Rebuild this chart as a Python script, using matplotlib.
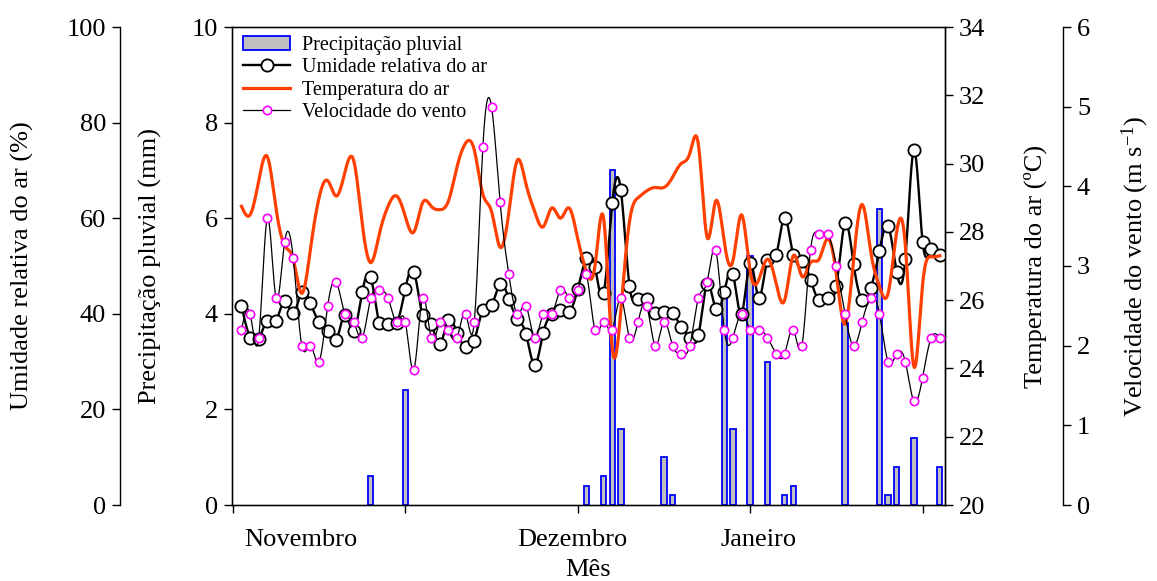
import numpy as np
import matplotlib
matplotlib.use("Agg")
import matplotlib.pyplot as plt
from matplotlib.patches import Patch
from matplotlib.lines import Line2D

plt.rcParams['font.family'] = ['Liberation Serif', 'DejaVu Serif']
plt.rcParams['mathtext.default'] = 'regular'

# ---------------- data ----------------
days = list(range(1, 83))

humidity = [41.6, 35.0, 34.7, 38.5, 38.5, 42.7, 40.1, 44.6, 42.3, 38.3,
            36.3, 34.5, 39.8, 36.4, 44.5, 47.6, 38.0, 37.9, 38.0, 45.2,
            48.8, 39.7, 37.8, 33.7, 38.7, 36.0, 33.0, 34.4, 40.8, 41.8,
            46.2, 43.2, 38.9, 35.8, 29.3, 36.0, 40.0, 40.8, 40.3, 45.2,
            51.6, 49.8, 44.3, 63.1, 65.9, 45.9, 43.2, 43.0, 40.1, 40.3,
            40.1, 37.3, 35.0, 35.5, 46.2, 41.1, 44.6, 48.3, 40.0, 50.6,
            43.4, 51.3, 52.3, 60.1, 52.3, 51.1, 47.1, 42.9, 43.3, 45.9,
            58.9, 50.4, 42.8, 45.3, 53.2, 58.4, 48.7, 51.5, 74.3, 55.1,
            53.5, 52.3]

wind = [2.20, 2.40, 2.10, 3.60, 2.60, 3.30, 3.10, 2.00, 2.00, 1.80,
        2.50, 2.80, 2.40, 2.30, 2.10, 2.60, 2.70, 2.60, 2.30, 2.30,
        1.70, 2.60, 2.10, 2.30, 2.20, 2.10, 2.40, 2.30, 4.50, 5.00,
        3.80, 2.90, 2.40, 2.50, 2.10, 2.40, 2.40, 2.70, 2.60, 2.70,
        2.90, 2.20, 2.30, 2.20, 2.60, 2.10, 2.30, 2.50, 2.00, 2.30,
        2.00, 1.90, 2.00, 2.60, 2.80, 3.20, 2.20, 2.10, 2.40, 2.20,
        2.20, 2.10, 1.90, 1.90, 2.20, 2.00, 3.20, 3.40, 3.40, 3.00,
        2.40, 2.00, 2.30, 2.60, 2.40, 1.80, 1.90, 1.80, 1.30, 1.60,
        2.10, 2.10]

temperature = [28.75, 28.5, 29.5, 30.2, 28.7, 27.6, 27.2, 26.2, 27.5, 29.0,
               29.5, 29.05, 29.75, 30.1, 28.25, 27.1, 27.95, 28.75, 29.05, 28.45,
               28.0, 28.85, 28.75, 28.65, 28.9, 29.9, 30.6, 30.4, 29.1, 28.6,
               27.55, 28.55, 30.1, 29.4, 28.6, 28.15, 28.7, 28.4, 28.7, 27.8,
               26.85, 27.0, 28.4, 24.6, 25.7, 28.3, 29.0, 29.2, 29.3, 29.3,
               29.6, 30.0, 30.3, 30.55, 27.85, 28.9, 27.7, 27.15, 28.5, 26.85,
               26.6, 27.2, 26.5, 26.0, 27.3, 26.7, 27.1, 27.2, 27.8, 26.75,
               25.3, 27.2, 28.8, 27.4, 26.4, 26.2, 28.0, 27.6, 24.05, 26.45,
               27.27, 27.3]

rain_days = [16, 20, 41, 43, 44, 45, 50, 51, 57, 58, 60, 62, 64, 65, 71, 75, 76, 77, 79, 82]
rain_mm = [0.6, 2.4, 0.4, 0.6, 7.0, 1.6, 1.0, 0.2, 4.4, 1.6, 5.2, 3.0, 0.2, 0.4, 3.8, 6.2, 0.2, 0.8, 1.4, 0.8]

month_labels = ['Novembro', 'Dezembro', 'Janeiro']
month_label_pos = [7.9, 39.4, 61.0]
xtick_pos = [0, 20, 40, 60, 80]


def natural_spline(x, y, xs):
    x = np.asarray(x, float)
    y = np.asarray(y, float)
    n = len(x)
    h = np.diff(x)
    A = np.zeros((n, n))
    b = np.zeros(n)
    A[0, 0] = A[-1, -1] = 1.0
    for i in range(1, n - 1):
        A[i, i - 1] = h[i - 1]
        A[i, i] = 2 * (h[i - 1] + h[i])
        A[i, i + 1] = h[i]
        b[i] = 3 * ((y[i + 1] - y[i]) / h[i] - (y[i] - y[i - 1]) / h[i - 1])
    c = np.linalg.solve(A, b)
    a = y[:-1]
    bb = (y[1:] - y[:-1]) / h - h * (2 * c[:-1] + c[1:]) / 3
    d = (c[1:] - c[:-1]) / (3 * h)
    idx = np.clip(np.searchsorted(x, xs) - 1, 0, n - 2)
    dx = xs - x[idx]
    return a[idx] + bb[idx] * dx + c[idx] * dx ** 2 + d[idx] * dx ** 3


xs = np.linspace(days[0], days[-1], 1600)

FS = 19
LW = 1.0

fig = plt.figure(figsize=(11.57, 5.81), dpi=100)
ax_p = fig.add_axes([232 / 1157, 76 / 581, 713 / 1157, 478 / 581])

# precipitation bars
ax_p.bar(rain_days, rain_mm, width=0.62, color='#C0C0C0', edgecolor='#0000FF', linewidth=1.3, zorder=2)
ax_p.set_ylim(0, 10)
ax_p.set_yticks(np.arange(0, 11, 2))
ax_p.set_xlim(-0.1, 82.6)
ax_p.set_xticks(xtick_pos)
ax_p.set_xticklabels([])
ax_p.set_ylabel('Precipitação pluvial (mm)', fontsize=FS)
ax_p.yaxis.set_label_coords(-0.115, 0.5)
ax_p.yaxis.label.set_verticalalignment('center')
for s in ax_p.spines.values():
    s.set_linewidth(LW)
ax_p.tick_params(direction='out', length=6, width=LW, labelsize=FS, pad=4)
for m, p in zip(month_labels, month_label_pos):
    ax_p.text(p, -0.073, m, transform=ax_p.get_xaxis_transform(), ha='center', va='center', fontsize=FS)
ax_p.set_xlabel('Mês', fontsize=FS)
ax_p.xaxis.set_label_coords(0.5, -0.137)
ax_p.xaxis.label.set_verticalalignment('center')

# humidity axis (outer left)
ax_h = ax_p.twinx()
ax_h.yaxis.set_ticks_position('left')
ax_h.yaxis.set_label_position('left')
ax_h.spines['left'].set_position(('axes', -0.157))
ax_h.spines['left'].set_visible(True)
ax_h.spines['right'].set_visible(False)
ax_h.spines['top'].set_visible(False)
ax_h.spines['bottom'].set_visible(False)
ax_h.spines['left'].set_linewidth(LW)
ax_h.set_ylim(0, 100)
ax_h.set_yticks(np.arange(0, 101, 20))
ax_h.tick_params(direction='out', length=6, width=LW, labelsize=FS, pad=4)
ax_h.set_ylabel('Umidade relativa do ar (%)', fontsize=FS)
ax_h.yaxis.set_label_coords(-0.2945, 0.5)
ax_h.yaxis.label.set_verticalalignment('center')
ax_h.plot(xs, natural_spline(days, humidity, xs), color='black', lw=1.7, zorder=3)
ax_h.plot(days, humidity, ls='none', marker='o', ms=8.8, mfc='white', mec='black', mew=1.3, zorder=4)

# temperature axis (inner right)
ax_t = ax_p.twinx()
ax_t.set_ylim(20, 34)
ax_t.set_yticks(np.arange(20, 35, 2))
ax_t.spines['right'].set_linewidth(LW)
ax_t.tick_params(direction='out', length=6, width=LW, labelsize=FS, pad=4)
ax_t.set_ylabel('Temperatura do ar (ºC)', fontsize=FS)
ax_t.yaxis.set_label_coords(1.126, 0.5)
ax_t.yaxis.label.set_verticalalignment('center')
ax_t.plot(xs, natural_spline(days, temperature, xs), color='#FF4000', lw=2.3, zorder=3)

# wind axis (outer right)
ax_w = ax_p.twinx()
ax_w.spines['right'].set_position(('axes', 1.1655))
ax_w.spines['right'].set_linewidth(LW)
ax_w.set_ylim(0, 6)
ax_w.set_yticks(np.arange(0, 7, 1))
ax_w.tick_params(direction='out', length=6, width=LW, labelsize=FS, pad=4)
ax_w.set_ylabel('Velocidade do vento (m s$^{-1}$)', fontsize=FS)
ax_w.yaxis.set_label_coords(1.2665, 0.5)
ax_w.yaxis.label.set_verticalalignment('center')
ax_w.plot(xs, natural_spline(days, wind, xs), color='black', lw=0.9, zorder=3)
ax_w.plot(days, wind, ls='none', marker='o', ms=6, mfc='white', mec='#FF00FF', mew=1.2, zorder=4)

handles = [
    Patch(facecolor='#C0C0C0', edgecolor='#0000FF', linewidth=1.3),
    Line2D([], [], color='black', lw=1.7, marker='o', ms=8.8, mfc='white', mec='black', mew=1.3),
    Line2D([], [], color='#FF4000', lw=2.3),
    Line2D([], [], color='black', lw=0.9, marker='o', ms=6, mfc='white', mec='#FF00FF', mew=1.2),
]
labels = ['Precipitação pluvial', 'Umidade relativa do ar', 'Temperatura do ar', 'Velocidade do vento']
leg = ax_w.legend(handles, labels, loc='upper left', bbox_to_anchor=(0.016, 0.981), frameon=False,
                  fontsize=14.5, handlelength=2.3, handletextpad=0.6, labelspacing=0.16,
                  borderpad=0, borderaxespad=0)

fig.savefig('out.png', dpi=100)
